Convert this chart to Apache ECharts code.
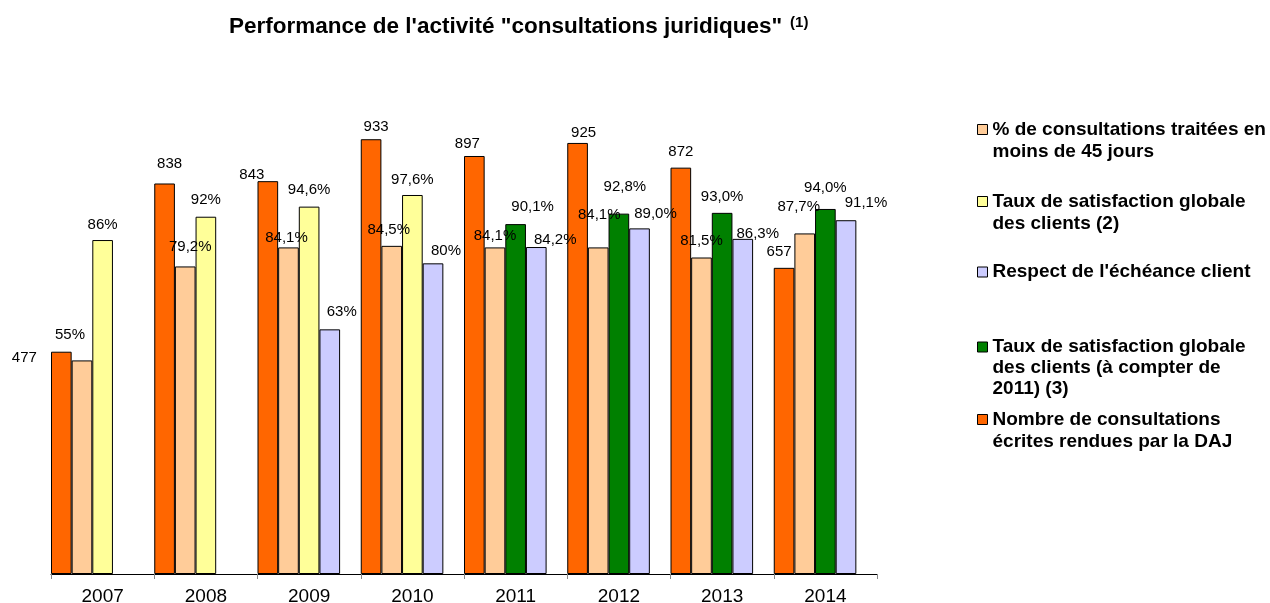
<!DOCTYPE html>
<html>
<head>
<meta charset="utf-8">
<title>consultations juridiques</title>
<script src="https://cdn.jsdelivr.net/npm/echarts@6/dist/echarts.min.js"></script>
<style>
  html, body { margin: 0; padding: 0; background: #fff; }
  #myChart { width: 1270px; height: 603px; }
</style>
</head>
<body>
<div id="myChart"></div>
<script>
// data
var years = ['2007', '2008', '2009', '2010', '2011', '2012', '2013', '2014'];
var nbConsultations = [477, 838, 843, 933, 897, 925, 872, 657];
var pctMoins45 = [55, 79.2, 84.1, 84.5, 84.1, 84.1, 81.5, 87.7];
var satisfaction = [86, 92, 94.6, 97.6, null, null, null, null];
var satisfaction2011 = [null, null, null, null, 90.1, 92.8, 93.0, 94.0];
var respectEcheance = [null, null, 63, 80, 84.2, 89.0, 86.3, 91.1];

// number of decimals shown in each label
var digitsMoins45 = [0, 1, 1, 1, 1, 1, 1, 1];
var digitsSatisf = [0, 0, 1, 1, 0, 0, 0, 0];
var digitsSatisf2011 = [1, 1, 1, 1, 1, 1, 1, 1];
var digitsRespect = [0, 0, 0, 0, 1, 1, 1, 1];

// label nudges (the excel labels were moved by hand)
var offNb = [[-37, 14], [5, -12], [-16, 1], [5, -5], [-7, -5], [6, -3], [0, -8], [-5, -8]];
var offMoins45 = [[-12, -18], [5, -12], [-2, -2], [-3, -8], [0, -4], [1, -25], [0, -9], [-6, -19]];
var offSatisf = [[0, -8], [0, -9], [0, -9], [0, -8], [0, 0], [0, 0], [0, 0], [0, 0]];
var offSatisf2011 = [[0, 0], [0, 0], [0, 0], [0, 0], [17, -10], [6, -19], [0, -8], [0, -14]];
var offRespect = [[0, 0], [0, 0], [12, -10], [13, -5], [19, 0], [16, -7], [15, 2], [20, -10]];

var FONT = 'Liberation Sans, Arial, sans-serif';

function items(values, offsets) {
  return values.map(function (v, i) {
    return { value: v, label: { offset: offsets[i] } };
  });
}
function pct(digits) {
  return function (p) {
    return p.value.toFixed(digits[p.dataIndex]).replace('.', ',') + '%';
  };
}
function barLabel(fmt) {
  return {
    show: true,
    position: 'top',
    distance: 0,
    color: '#000',
    fontFamily: FONT,
    fontSize: 15,
    formatter: fmt
  };
}
function legendBox(name, top, lineHeight, icon) {
  return {
    data: [{ name: name, icon: icon }],
    left: 977,
    top: top,
    padding: 0,
    orient: 'vertical',
    itemWidth: 10,
    itemHeight: icon === 'rect' ? 10 : lineHeight * name.split('\n').length,
    selectedMode: false,
    itemStyle: { borderColor: '#000', borderWidth: 1 },
    textStyle: { fontFamily: FONT, fontSize: 19, fontWeight: 'bold', color: '#000', lineHeight: lineHeight }
  };
}

var nameNb = 'Nombre de consultations\nécrites rendues par la DAJ';
var nameMoins45 = '% de consultations traitées en\nmoins de 45 jours';
var nameSatisf = 'Taux de satisfaction globale\ndes clients (2)';
var nameSatisf2011 = 'Taux de satisfaction globale\ndes clients (à compter de\n2011) (3)';
var nameRespect = "Respect de l'échéance client";

// square at the first text line, extra move points stretch the icon box
var icon2 = 'path://M0,0M0,44M0,6H10V16H0Z';
var icon3 = 'path://M0,0M0,63M0,5.5H10V15.5H0Z';

var myChart = echarts.init(document.getElementById('myChart'));
var options = {
  backgroundColor: '#fff',
  animation: false,
  title: {
    text: '{m|Performance de l\'activité "consultations juridiques"} {s|(1)}',
    left: 229,
    top: 15,
    padding: 0,
    textStyle: {
      rich: {
        m: { fontFamily: FONT, fontSize: 22.5, fontWeight: 'bold', color: '#000', lineHeight: 24 },
        s: { fontFamily: FONT, fontSize: 15, fontWeight: 'bold', color: '#000', verticalAlign: 'top', lineHeight: 16, padding: [0, 0, 0, 3] }
      }
    }
  },
  legend: [
    legendBox(nameMoins45, 118, 22, icon2),
    legendBox(nameSatisf, 190, 22, icon2),
    legendBox(nameRespect, 261, 22, 'rect'),
    legendBox(nameSatisf2011, 336, 21, icon3),
    legendBox(nameNb, 408, 22, icon2)
  ],
  grid: { left: 51, right: 393, top: 108, bottom: 29, outerBoundsMode: 'none' },
  xAxis: {
    type: 'category',
    data: years,
    axisLine: { lineStyle: { color: '#000', width: 1 } },
    axisTick: { show: true, length: 5, interval: 0, lineStyle: { color: '#888' } },
    axisLabel: { color: '#000', fontFamily: FONT, fontSize: 19, margin: 13, interval: 0 },
    splitLine: { show: false }
  },
  yAxis: [
    { type: 'value', min: 0, max: 120, show: false, splitLine: { show: false } },
    { type: 'value', min: 0, max: 1000, show: false, splitLine: { show: false } }
  ],
  series: [
    {
      name: nameNb, type: 'bar', yAxisIndex: 1, barWidth: '20%', barGap: 0,
      data: items(nbConsultations, offNb),
      itemStyle: { color: '#FF6600', borderColor: '#000', borderWidth: 1 },
      label: barLabel('{c}')
    },
    {
      name: nameMoins45, type: 'bar', yAxisIndex: 0, barWidth: '20%', barGap: 0,
      data: items(pctMoins45, offMoins45),
      itemStyle: { color: '#FFCC99', borderColor: '#000', borderWidth: 1 },
      label: barLabel(pct(digitsMoins45))
    },
    {
      // yellow and green share one slot
      name: nameSatisf, type: 'bar', yAxisIndex: 0, stack: 'satisf', barWidth: '20%', barGap: 0,
      data: items(satisfaction, offSatisf),
      itemStyle: { color: '#FFFF99', borderColor: '#000', borderWidth: 1 },
      label: barLabel(pct(digitsSatisf))
    },
    {
      name: nameSatisf2011, type: 'bar', yAxisIndex: 0, stack: 'satisf', barWidth: '20%', barGap: 0,
      data: items(satisfaction2011, offSatisf2011),
      itemStyle: { color: '#008000', borderColor: '#000', borderWidth: 1 },
      label: barLabel(pct(digitsSatisf2011))
    },
    {
      name: nameRespect, type: 'bar', yAxisIndex: 0, barWidth: '20%', barGap: 0,
      data: items(respectEcheance, offRespect),
      itemStyle: { color: '#CCCCFF', borderColor: '#000', borderWidth: 1 },
      label: barLabel(pct(digitsRespect))
    },
    {
      // empty slot, keeps the groups to the left of each category like in excel
      name: 'vide', type: 'bar', yAxisIndex: 0, barWidth: '20%', barGap: 0,
      data: []
    }
  ]
};
myChart.setOption(options);
</script>
</body>
</html>
